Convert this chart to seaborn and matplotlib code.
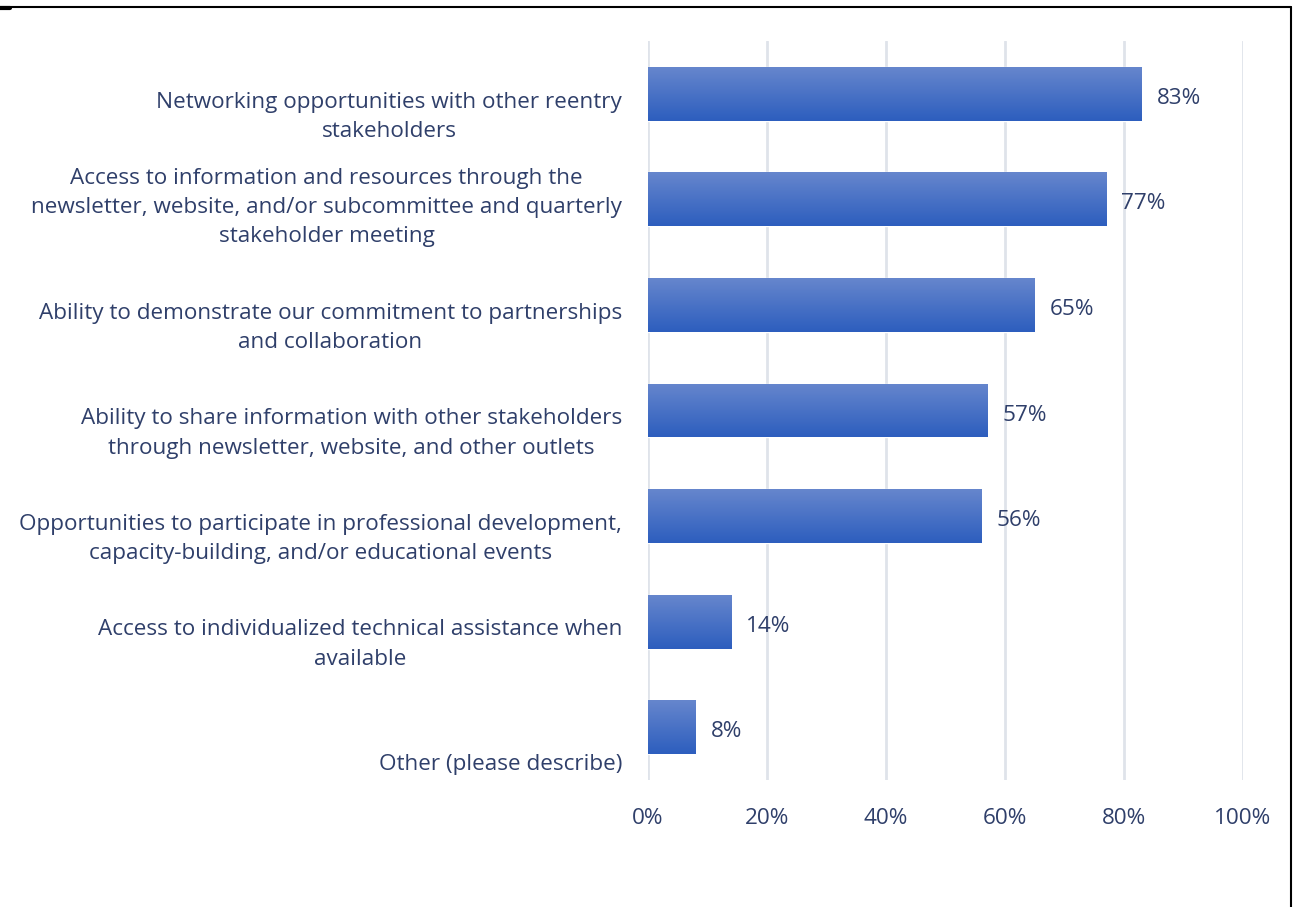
import numpy as np
import pandas as pd
import seaborn as sns
import matplotlib.pyplot as plt
from matplotlib.lines import Line2D

# Survey responses (share of respondents)
categories = [
    "Networking opportunities with other reentry\nstakeholders",
    "Access to information and resources through the\nnewsletter, website, and/or subcommittee and quarterly\nstakeholder meeting",
    "Ability to demonstrate our commitment to partnerships\nand collaboration",
    "Ability to share information with other stakeholders\nthrough newsletter, website, and other outlets",
    "Opportunities to participate in professional development,\ncapacity-building, and/or educational events",
    "Access to individualized technical assistance when\navailable",
    "Other (please describe)",
]
values = [83, 77, 65, 57, 56, 14, 8]
x_ticks = [0, 20, 40, 60, 80, 100]

text_color = '#2F3F6A'
grid_color = '#DFE3EA'
top_color = np.array([0x66, 0x86, 0xCD]) / 255
bottom_color = np.array([0x2D, 0x5E, 0xBE]) / 255
fs = 16.2

sns.set_style('white')
plt.rcParams['font.family'] = ['Open Sans', 'DejaVu Sans']

df = pd.DataFrame({'label': categories, 'value': values})

fig = plt.figure(figsize=(12.94, 9.07), dpi=100)
ax = fig.add_axes([648 / 1294, 1 - 780 / 907, 595 / 1294, 739 / 907])

sns.barplot(data=df, x='value', y='label', orient='h', width=0.51,
            color=bottom_color, ax=ax, zorder=2)

# gradient fill for every bar
grad = np.linspace(0, 1, 64)[:, None, None]
grad_img = top_color * (1 - grad) + bottom_color * grad
for patch in ax.patches:
    x0, y0 = patch.get_x(), patch.get_y()
    w, h = patch.get_width(), patch.get_height()
    im = ax.imshow(grad_img, extent=[x0, x0 + w, y0 + h, y0], origin='upper',
                   aspect='auto', zorder=3, interpolation='bilinear')
    im.set_clip_path(patch)

ax.set_xlim(0, 100)
ax.set_ylim(len(categories) - 0.5, -0.5)

# value labels
for i, v in enumerate(values):
    ax.text(v + 2.5, i + 0.02, f"{v}%", va='center_baseline', ha='left', fontsize=fs,
            color=text_color, zorder=4)

# category labels (right aligned block, centered lines)
ax.set_yticks([])
ax.set_ylabel('')
ax.set_xlabel('')
for i, lab in enumerate(categories):
    ax.text(-0.0437, i + 0.455, lab, transform=ax.get_yaxis_transform(),
            ha='right', va='bottom', multialignment='center',
            fontsize=fs, color=text_color, linespacing=1.52)

ax.set_xticks(x_ticks)
ax.set_xticklabels([f"{t}%" for t in x_ticks])
ax.tick_params(axis='x', length=0, pad=20.5, labelsize=fs, labelcolor=text_color)
ax.grid(axis='x', color=grid_color, linewidth=2, zorder=0)
ax.set_axisbelow(True)
sns.despine(ax=ax, left=True, bottom=True)

# outer frame lines (top and right)
fig.add_artist(Line2D([0, 1291 / 1294], [1 - 6.5 / 907] * 2, color='black', lw=1.5,
                      transform=fig.transFigure))
fig.add_artist(Line2D([1291 / 1294] * 2, [0, 1 - 6.5 / 907], color='black', lw=1.5,
                      transform=fig.transFigure))
fig.add_artist(Line2D([0, 10 / 1294], [1 - 7.5 / 907] * 2, color='black', lw=3,
                      transform=fig.transFigure))

fig.savefig('out.png', dpi=100)
